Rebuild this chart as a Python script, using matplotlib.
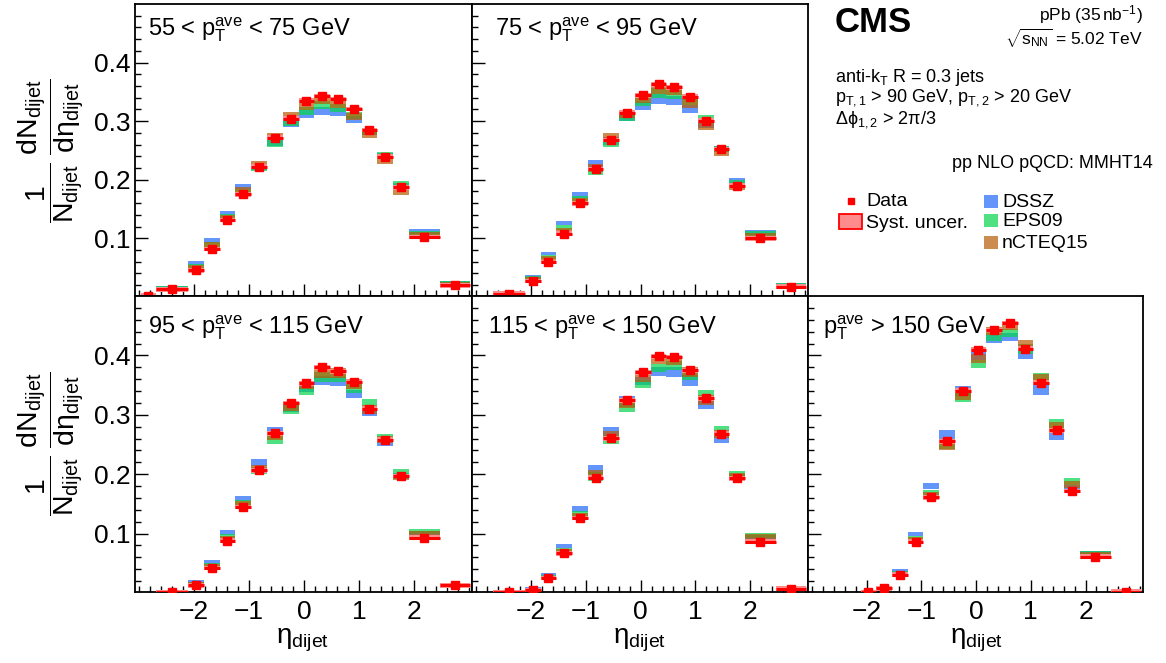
import numpy as np
import matplotlib
matplotlib.use('Agg')
import matplotlib.pyplot as plt
from matplotlib.patches import Rectangle
from matplotlib.ticker import FixedLocator

plt.rcParams['font.family'] = ['Liberation Sans', 'DejaVu Sans']
plt.rcParams['mathtext.fontset'] = 'custom'
plt.rcParams['mathtext.rm'] = 'Liberation Sans'
plt.rcParams['mathtext.it'] = 'Liberation Sans:italic'
plt.rcParams['mathtext.bf'] = 'Liberation Sans:bold'
plt.rcParams['mathtext.default'] = 'rm'

nan = np.nan

# ---------------- data ----------------
BIN_EDGES = [-2.97, -2.68, -2.11, -1.82, -1.535, -1.25, -0.96, -0.675, -0.39, -0.10,
             0.185, 0.47, 0.76, 1.045, 1.33, 1.615, 1.90, 2.46, 3.02]

PANEL_TITLES = [r'55 < p$_{\mathrm{T}}^{\mathrm{ave}}$ < 75 GeV',
                r'75 < p$_{\mathrm{T}}^{\mathrm{ave}}$ < 95 GeV',
                r'95 < p$_{\mathrm{T}}^{\mathrm{ave}}$ < 115 GeV',
                r'115 < p$_{\mathrm{T}}^{\mathrm{ave}}$ < 150 GeV',
                r'p$_{\mathrm{T}}^{\mathrm{ave}}$ > 150 GeV']

# panel 1: 55-75 GeV
data_1 = [0.002, 0.0127, 0.0455, 0.082, 0.131, 0.175, 0.2225, 0.272, 0.304, 0.335, 0.343, 0.338, 0.321, 0.285, 0.2395, 0.187, 0.102, 0.020]
dssz_1 = [nan, 0.016, 0.058, 0.096, 0.143, 0.188, 0.222, 0.264, 0.296, 0.312, 0.318, 0.316, 0.303, 0.282, 0.240, 0.190, 0.112, 0.024]
eps09_1 = [nan, 0.015, 0.053, 0.090, 0.138, 0.180, 0.220, 0.262, 0.297, 0.318, 0.328, 0.323, 0.310, 0.283, 0.243, 0.192, 0.109, 0.024]
ncteq_1 = [nan, 0.014, 0.051, 0.089, 0.135, 0.183, 0.227, 0.274, 0.310, 0.326, 0.336, 0.329, 0.308, 0.278, 0.232, 0.179, 0.107, 0.022]
theo_unc_1 = [0.001, 0.003, 0.003, 0.004, 0.004, 0.004, 0.005, 0.006, 0.006, 0.007, 0.007, 0.007, 0.006, 0.006, 0.005, 0.005, 0.004, 0.003]

# panel 2: 75-95 GeV
data_2 = [nan, 0.0053, 0.027, 0.0597, 0.108, 0.160, 0.2185, 0.268, 0.3145, 0.344, 0.3626, 0.3575, 0.3416, 0.301, 0.2526, 0.190, 0.100, 0.0173]
dssz_2 = [nan, 0.007, 0.035, 0.074, 0.126, 0.174, 0.227, 0.266, 0.307, 0.326, 0.338, 0.335, 0.321, 0.296, 0.252, 0.198, 0.110, 0.021]
eps09_2 = [nan, 0.007, 0.032, 0.068, 0.118, 0.167, 0.214, 0.263, 0.306, 0.333, 0.348, 0.345, 0.334, 0.303, 0.253, 0.194, 0.108, 0.021]
ncteq_2 = [nan, 0.006, 0.031, 0.066, 0.113, 0.163, 0.220, 0.273, 0.311, 0.338, 0.355, 0.352, 0.330, 0.292, 0.246, 0.187, 0.105, 0.019]
theo_unc_2 = [0.001, 0.002, 0.003, 0.003, 0.004, 0.005, 0.006, 0.007, 0.006, 0.007, 0.008, 0.008, 0.007, 0.007, 0.005, 0.005, 0.004, 0.002]

# panel 3: 95-115 GeV
data_3 = [nan, 0.001, 0.0125, 0.042, 0.088, 0.1447, 0.2066, 0.269, 0.320, 0.353, 0.3797, 0.373, 0.356, 0.310, 0.258, 0.197, 0.093, 0.0125]
dssz_3 = [nan, 0.002, 0.018, 0.052, 0.102, 0.159, 0.219, 0.272, 0.312, 0.346, 0.358, 0.356, 0.335, 0.306, 0.254, 0.197, 0.101, 0.015]
eps09_3 = [nan, 0.002, 0.016, 0.048, 0.095, 0.152, 0.206, 0.258, 0.309, 0.340, 0.364, 0.364, 0.344, 0.318, 0.261, 0.203, 0.103, 0.015]
ncteq_3 = [nan, 0.002, 0.015, 0.046, 0.091, 0.149, 0.210, 0.265, 0.314, 0.350, 0.370, 0.370, 0.350, 0.309, 0.258, 0.195, 0.100, 0.014]
theo_unc_3 = [0.001, 0.001, 0.003, 0.003, 0.004, 0.005, 0.006, 0.008, 0.007, 0.007, 0.008, 0.008, 0.007, 0.008, 0.006, 0.005, 0.004, 0.002]

# panel 4: 115-150 GeV
data_4 = [nan, 0.0008, 0.005, 0.025, 0.0664, 0.126, 0.194, 0.2605, 0.3246, 0.3717, 0.3984, 0.3973, 0.375, 0.3275, 0.268, 0.193, 0.0863, 0.0068]
dssz_4 = [nan, 0.001, 0.008, 0.031, 0.079, 0.142, 0.208, 0.271, 0.322, 0.357, 0.373, 0.372, 0.358, 0.318, 0.260, 0.195, 0.094, 0.009]
eps09_4 = [nan, 0.001, 0.007, 0.027, 0.072, 0.133, 0.196, 0.258, 0.314, 0.352, 0.379, 0.383, 0.368, 0.333, 0.274, 0.201, 0.097, 0.009]
ncteq_4 = [nan, 0.001, 0.006, 0.026, 0.070, 0.130, 0.200, 0.265, 0.320, 0.362, 0.392, 0.391, 0.372, 0.325, 0.268, 0.197, 0.095, 0.009]
theo_unc_4 = [0.001, 0.001, 0.002, 0.003, 0.004, 0.005, 0.007, 0.008, 0.009, 0.007, 0.007, 0.008, 0.009, 0.008, 0.007, 0.005, 0.004, 0.002]

# panel 5: > 150 GeV
data_5 = [nan, nan, 0.001, 0.008, 0.0306, 0.0863, 0.161, 0.2554, 0.3405, 0.4098, 0.4427, 0.4546, 0.4115, 0.354, 0.2735, 0.1714, 0.0607, 0.0023]
dssz_5 = [nan, nan, 0.002, 0.010, 0.038, 0.099, 0.180, 0.266, 0.340, 0.400, 0.428, 0.431, 0.402, 0.342, 0.266, 0.176, 0.067, 0.003]
eps09_5 = [nan, nan, 0.002, 0.009, 0.034, 0.092, 0.168, 0.251, 0.329, 0.386, 0.431, 0.438, 0.411, 0.363, 0.285, 0.187, 0.068, 0.003]
ncteq_5 = [nan, nan, 0.002, 0.009, 0.033, 0.090, 0.165, 0.248, 0.333, 0.395, 0.441, 0.450, 0.418, 0.361, 0.279, 0.183, 0.066, 0.003]
theo_unc_5 = [0.001, 0.001, 0.001, 0.002, 0.003, 0.004, 0.005, 0.008, 0.008, 0.007, 0.007, 0.007, 0.008, 0.008, 0.008, 0.006, 0.003, 0.001]

SYST = 0.004  # half height of data systematic box

X_TICKS = [-2, -1, 0, 1, 2]
Y_TICKS = [0.1, 0.2, 0.3, 0.4]

# ---------------- style ----------------
C_DSSZ = '#2269f8'
C_EPS = '#05d44c'
C_NCT = '#b85b05'
ALPHA = 0.7
C_SYST = '#ff8c8c'

W, H = 1166, 663
fig = plt.figure(figsize=(W / 100, H / 100), dpi=100)

def rect(x0, y0, x1, y1):
    return [x0 / W, 1 - y1 / H, (x1 - x0) / W, (y1 - y0) / H]

cols = [135, 472, 808, 1143]
rows = [4, 296, 592]

lo = np.array(BIN_EDGES[:-1])
hi = np.array(BIN_EDGES[1:])
wid = hi - lo
cen = 0.5 * (lo + hi)


def draw_panel(ax, data, dssz, eps, nct, unc, xlab, ylab):
    h = np.asarray(unc, float)
    for vals, col in ((dssz, C_DSSZ), (eps, C_EPS), (nct, C_NCT)):
        v = np.asarray(vals, float)
        m = ~np.isnan(v)
        ax.bar(lo[m], 2 * h[m], width=wid[m], bottom=v[m] - h[m], align='edge',
               color=col, alpha=ALPHA, lw=0, zorder=2)
    d = np.asarray(data, float)
    m = ~np.isnan(d)
    ax.bar(lo[m], 2 * SYST, width=wid[m], bottom=d[m] - SYST, align='edge',
           color=C_SYST, lw=0, zorder=3)
    ax.hlines(d[m], lo[m], hi[m], color='red', lw=2.2, zorder=4)
    ax.plot(cen[m], d[m], 's', color='red', ms=6, mec='red', zorder=5)

    ax.set_xlim(-3.07, 3.05)
    ax.set_ylim(0.0015, 0.5)
    ax.xaxis.set_major_locator(FixedLocator(X_TICKS))
    ax.xaxis.set_minor_locator(FixedLocator(np.arange(-3.0, 3.01, 0.2)))
    ax.yaxis.set_major_locator(FixedLocator(Y_TICKS))
    ax.yaxis.set_minor_locator(FixedLocator(np.arange(0.02, 0.499, 0.02)))
    ax.tick_params(which='both', direction='in', top=False, right=False, width=1.0)
    ax.tick_params(which='major', length=9)
    ax.tick_params(which='minor', length=4.5)
    ax.tick_params(axis='x', labelsize=19, pad=5.5, labelbottom=xlab)
    ax.tick_params(axis='y', labelsize=19, pad=3, labelleft=ylab)
    for s in ax.spines.values():
        s.set_linewidth(1.3)
    ax.set_facecolor('white')


panels = [
    (rect(cols[0], rows[0], cols[1], rows[1]), data_1, dssz_1, eps09_1, ncteq_1, theo_unc_1, False, True),
    (rect(cols[1], rows[0], cols[2], rows[1]), data_2, dssz_2, eps09_2, ncteq_2, theo_unc_2, False, False),
    (rect(cols[0], rows[1], cols[1], rows[2]), data_3, dssz_3, eps09_3, ncteq_3, theo_unc_3, True, True),
    (rect(cols[1], rows[1], cols[2], rows[2]), data_4, dssz_4, eps09_4, ncteq_4, theo_unc_4, True, False),
    (rect(cols[2], rows[1], cols[3], rows[2]), data_5, dssz_5, eps09_5, ncteq_5, theo_unc_5, True, False),
]
axes = []
for r, d, a, b, c, u, xl, yl in panels:
    ax = fig.add_axes(r)
    draw_panel(ax, d, a, b, c, u, xl, yl)
    axes.append(ax)

# overlay in pixel coordinates for text and legend
lax = fig.add_axes([0, 0, 1, 1])
lax.set_xlim(0, W)
lax.set_ylim(H, 0)
lax.axis('off')
lax.patch.set_visible(False)

title_pos = [(148, 35), (495, 35), (148, 334), (488, 334), (823, 334)]
for (x, y), t in zip(title_pos, PANEL_TITLES):
    lax.text(x, y, t, fontsize=17, va='baseline', ha='left')

ylabel = r'$\dfrac{1}{N_{dijet}}\;\dfrac{dN_{dijet}}{d\eta_{dijet}}$'
for yc in (151, 444):
    lax.text(50, yc, ylabel, fontsize=20.5, rotation=90, ha='center', va='center')

for x0 in (302.7, 639.5, 976.7):
    lax.text(x0, 643, r'$\eta_{dijet}$', fontsize=20, ha='center', va='baseline')

# CMS header block
lax.text(835, 32, 'CMS', fontsize=25, fontweight='bold', va='baseline', ha='left')
lax.text(1143, 20, r'pPb (35$\,$nb$^{-1}$)', fontsize=12.5, va='baseline', ha='right')
lax.text(1143, 45, r'$\sqrt{s_{NN}}$ = 5.02 TeV', fontsize=12.5, va='baseline', ha='right')
lax.text(835, 82, r'anti-k$_{T}$ R = 0.3 jets', fontsize=13, va='baseline')
lax.text(835, 102, r'p$_{T,1}$ > 90 GeV, p$_{T,2}$ > 20 GeV', fontsize=13, va='baseline')
lax.text(835, 124, r'$\Delta\phi_{1,2}$ > 2$\pi$/3', fontsize=13, va='baseline')
lax.text(1153, 168, 'pp NLO pQCD: MMHT14', fontsize=13, va='baseline', ha='right')

# legend
lax.plot([851], [201], 's', color='red', ms=5)
lax.add_patch(Rectangle((839, 214), 23, 15, facecolor=C_SYST, edgecolor='red', lw=1.3))
lax.text(866, 206, 'Data', fontsize=14, va='baseline')
lax.text(866, 228, 'Syst. uncer.', fontsize=14, va='baseline')
for yy, col, lab in ((195, C_DSSZ, 'DSSZ'), (214, C_EPS, 'EPS09'), (236, C_NCT, 'nCTEQ15')):
    lax.add_patch(Rectangle((984, yy), 14, 13, facecolor=col, alpha=ALPHA, lw=0))
    lax.text(1002, yy + 12, lab, fontsize=14, va='baseline')

fig.savefig('out.png', dpi=100)
